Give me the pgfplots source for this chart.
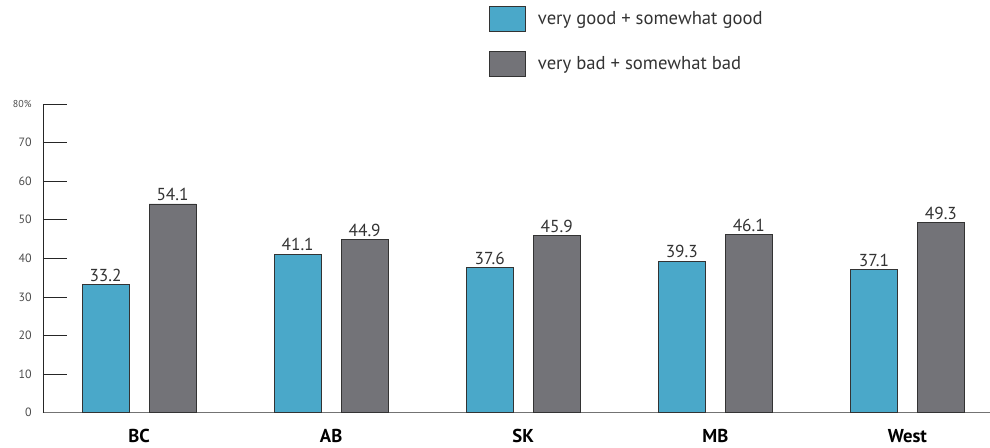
\documentclass[border=0pt]{standalone}
\usepackage{fontspec}
\setmainfont{PT Sans}
\usepackage{pgfplots}
\pgfplotsset{compat=1.18}
\usetikzlibrary{calc}
\definecolor{cgood}{HTML}{4AA8C9}
\definecolor{cbad}{HTML}{737378}
\definecolor{ctext}{HTML}{333333}
\begin{document}
\begin{tikzpicture}
\begin{axis}[name=ax, scale only axis, width=710.25pt, height=231.5pt,
  xmin=-0.5, xmax=4.43, ymin=0, ymax=80,
  axis lines=left,
  x axis line style={-, draw=black!55, line width=0.8pt},
  y axis line style={-, draw=black!85, line width=0.6pt},
  ytick={0,10,...,80},
  yticklabels={0,10,20,30,40,50,60,70,{\fontsize{7.5}{8}\selectfont 80\%}},
  yticklabel style={font=\fontsize{9}{10}\selectfont, text=black!70, xshift=-5pt},
  tick align=inside, major tick length=18pt,
  y tick style={draw=black!85, line width=0.6pt},
  xtick={0,...,4}, xticklabels={BC,AB,SK,MB,West},
  x tick style={draw=none},
  xticklabel style={font=\fontsize{14}{16}\selectfont\bfseries, text=black, anchor=north, yshift=9pt},
  ybar, bar width=35.25pt,
  nodes near coords,
  /pgf/number format/assume math mode=true,
  /pgf/number format/.cd, fixed, precision=1, fixed zerofill, /pgfplots/.cd,
  every node near coord/.append style={font=\fontsize{13}{15}\selectfont, text=ctext, inner sep=2pt},
  legend style={at={(0.471,1.3175)}, anchor=north west, draw=none, fill=none, inner sep=0pt,
    font=\fontsize{14}{16}\selectfont, text=ctext, row sep=14.25pt,
    nodes={inner sep=0pt},
    /tikz/every odd column/.append style={column sep=9pt}},
  legend cell align=left,
]
\addplot[fill=cgood, draw=black!80, line width=0.5pt, bar shift=-25.125pt,
  legend image code/.code={\draw[fill=cgood, draw=black!80, line width=0.5pt] (0pt,-9.375pt) rectangle (27pt,9.375pt);}]
  coordinates {(0,33.2) (1,41.1) (2,37.6) (3,39.3) (4,37.1)};
\addlegendentry{very good + somewhat good}
\addplot[fill=cbad, draw=black!80, line width=0.5pt, bar shift=25.125pt,
  legend image code/.code={\draw[fill=cbad, draw=black!80, line width=0.5pt] (0pt,-9.375pt) rectangle (27pt,9.375pt);}]
  coordinates {(0,54.1) (1,44.9) (2,45.9) (3,46.1) (4,49.3)};
\addlegendentry{very bad + somewhat bad}
\end{axis}
\pgfresetboundingbox
\path ($(ax.south west)+(-32.25pt,-26.5pt)$) rectangle ($(ax.north east)+(0pt,78pt)$);
\end{tikzpicture}
\end{document}
